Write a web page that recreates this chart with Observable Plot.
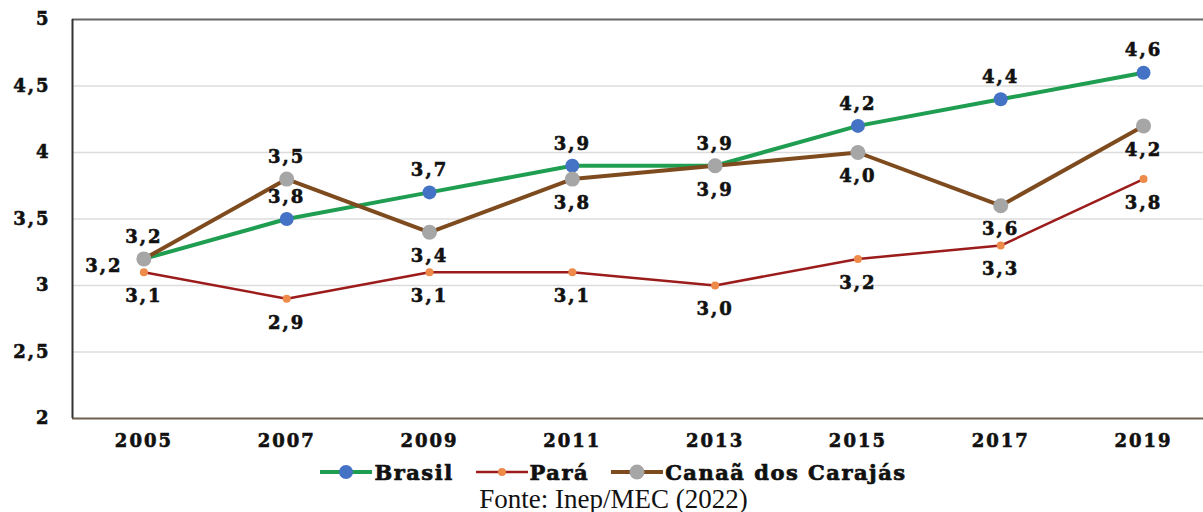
<!DOCTYPE html>
<html>
<head>
<meta charset="utf-8">
<script src="https://cdn.jsdelivr.net/npm/d3@7"></script>
<script src="https://cdn.jsdelivr.net/npm/@observablehq/plot@0.6"></script>
<style>
  html, body { margin: 0; padding: 0; background: #fff; overflow: hidden; }
  #chart svg { display: block; }
  #chart svg text { letter-spacing: 2px; stroke: #111; stroke-width: 0.6px; }
  #legend { display: flex; justify-content: center; align-items: center; gap: 22px; height: 28px;
    font-family: "DejaVu Serif", serif; font-weight: bold; font-size: 21px; color: #111; padding-left: 24px;
    -webkit-text-stroke: 0.7px #111; letter-spacing: 1.5px; }
  #legend .item { display: flex; align-items: center; gap: 2px; }
  #caption { text-align: center; font-family: "Liberation Serif", "Times New Roman", serif; font-size: 27px; color: #111; line-height: 26px; padding-left: 24px; }
</style>
</head>
<body>
<div id="chart"></div>
<div id="legend"></div>
<div id="caption">Fonte: Inep/MEC (2022)</div>
<script>
const years = [2005, 2007, 2009, 2011, 2013, 2015, 2017, 2019];
const brasil = [3.2, 3.5, 3.7, 3.9, 3.9, 4.2, 4.4, 4.6];
const para = [3.1, 2.9, 3.1, 3.1, 3.0, 3.2, 3.3, 3.8];
const canaa = [3.2, 3.8, 3.4, 3.8, 3.9, 4.0, 3.6, 4.2];
const brasilLabels = ["3,2", "3,8", "3,7", "3,9", "3,9", "4,2", "4,4", "4,6"];
const paraLabels = ["3,1", "2,9", "3,1", "3,1", "3,0", "3,2", "3,3", "3,8"];
const canaaLabels = ["3,2", "3,5", "3,4", "3,8", "3,9", "4,0", "3,6", "4,2"];
const brasilSide = ["left", "above", "above", "above", "above", "above", "above", "above"];
const paraSide = ["below", "below", "below", "below", "below", "below", "below", "below"];
const canaaSide = ["above", "above", "below", "below", "below", "below", "below", "below"];
const yTicks = [2, 2.5, 3, 3.5, 4, 4.5, 5];
const seriesNames = ["Brasil", "Pará", "Canaã dos Carajás"];

const colors = {
  "Brasil": {line: "#1f9e52", dot: "#4472c4", lw: 4, r: 7},
  "Pará": {line: "#9c1c1c", dot: "#ee8a4a", lw: 2.5, r: 4},
  "Canaã dos Carajás": {line: "#7e4b1f", dot: "#a6a6a6", lw: 4, r: 7.5}
};

function rows(name, vals, labels, sides) {
  return years.map((y, i) => ({series: name, year: y, value: vals[i], label: labels[i], side: sides[i]}));
}
const dBrasil = rows("Brasil", brasil, brasilLabels, brasilSide);
const dPara = rows("Pará", para, paraLabels, paraSide);
const dCanaa = rows("Canaã dos Carajás", canaa, canaaLabels, canaaSide);
const all = [...dPara, ...dBrasil, ...dCanaa];

const font = {fontFamily: "DejaVu Serif", fontWeight: "bold", fontSize: 18};
const comma = d => String(d).replace(".", ",");

function seriesMarks(data) {
  const c = colors[data[0].series];
  return [
    Plot.line(data, {x: "year", y: "value", stroke: c.line, strokeWidth: c.lw}),
    Plot.dot(data, {x: "year", y: "value", fill: c.dot, r: c.r, stroke: "none"})
  ];
}

const labelStyle = {x: "year", y: "value", text: "label", fill: "#111", ...font};

const chart = Plot.plot({
  width: 1203,
  height: 458,
  marginLeft: 72,
  marginRight: 0,
  marginTop: 19,
  marginBottom: 40,
  x: {type: "linear", domain: [2004, 2019.84], label: null},
  y: {domain: [2, 5], label: null},
  style: {background: "#fff", overflow: "visible"},
  marks: [
    Plot.ruleY(yTicks.filter(t => t > 2 && t < 5), {stroke: "#dcdcdc", strokeWidth: 1.5}),
    Plot.ruleY([5], {stroke: "#666", strokeWidth: 2}),
    Plot.ruleY([2], {stroke: "#6e6152", strokeWidth: 2}),
    Plot.ruleX([2004], {stroke: "#333", strokeWidth: 2}),
    Plot.axisY({ticks: yTicks, tickSize: 0, tickPadding: 22, tickFormat: comma, label: null, ...font, fill: "#111"}),
    Plot.axisX({ticks: years, tickSize: 0, tickPadding: 16, tickFormat: d => String(d), label: null, ...font, fill: "#111"}),
    ...seriesMarks(dPara),
    ...seriesMarks(dBrasil),
    ...seriesMarks(dCanaa),
    Plot.text(all.filter(d => d.side === "above"), {...labelStyle, dy: -22}),
    Plot.text(all.filter(d => d.side === "below"), {...labelStyle, dy: 24}),
    Plot.text(all.filter(d => d.side === "left"), {...labelStyle, dx: -40, dy: 7})
  ]
});
document.getElementById("chart").appendChild(chart);

const legend = document.getElementById("legend");
seriesNames.forEach(name => {
  const c = colors[name];
  const item = document.createElement("div");
  item.className = "item";
  item.innerHTML = `<svg width="52" height="18"><line x1="0" x2="52" y1="9" y2="9" stroke="${c.line}" stroke-width="${c.lw}"/><circle cx="26" cy="9" r="${c.r}" fill="${c.dot}"/></svg><span>${name}</span>`;
  legend.appendChild(item);
});
</script>
</body>
</html>
